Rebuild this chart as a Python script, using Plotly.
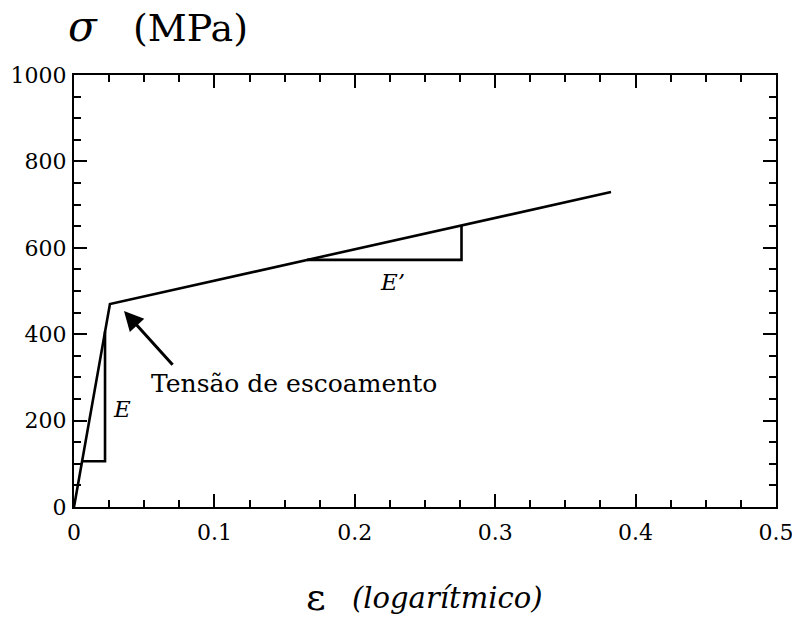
import plotly.graph_objects as go

# True stress–strain curve (bilinear idealisation)
strain = [0.0, 0.0256, 0.3825]
stress = [0.0, 470.0, 729.0]

# Slope triangle for the elastic modulus E
e_tri_x = [0.0058, 0.0221, 0.0221]
e_tri_y = [106.0, 106.0, 406.0]

# Slope triangle for the hardening modulus E'
ep_tri_x = [0.166, 0.276, 0.276]
ep_tri_y = [572.0, 572.0, 651.0]

x_ticks = [0, 0.1, 0.2, 0.3, 0.4, 0.5]
x_tick_text = ["0", "0.1", "0.2", "0.3", "0.4", "0.5"]
y_ticks = [0, 200, 400, 600, 800, 1000]

SERIF = "DejaVu Serif"
line_style = dict(color="black", width=2.6)

fig = go.Figure()
fig.add_trace(go.Scatter(x=strain, y=stress, mode="lines", line=line_style,
                         hoverinfo="skip"))
fig.add_trace(go.Scatter(x=e_tri_x, y=e_tri_y, mode="lines", line=line_style,
                         hoverinfo="skip"))
fig.add_trace(go.Scatter(x=ep_tri_x, y=ep_tri_y, mode="lines", line=line_style,
                         hoverinfo="skip"))

axis_common = dict(
    showline=True, linecolor="black", linewidth=2, mirror="ticks",
    ticks="inside", tickcolor="black", tickwidth=2, ticklen=13,
    showgrid=False, zeroline=False, ticklabeloverflow="allow",
    automargin=False,
    tickfont=dict(family=SERIF, size=22, color="black"),
)

fig.update_xaxes(range=[0, 0.50001], tickvals=x_ticks, ticktext=x_tick_text,
                 minor=dict(dtick=0.025, ticks="inside", ticklen=7,
                            tickwidth=1.5, tickcolor="black"),
                 ticklabelstandoff=5, **axis_common)
fig.update_yaxes(range=[0, 1000.02], tickvals=y_ticks,
                 minor=dict(dtick=50, ticks="inside", ticklen=7,
                            tickwidth=1.5, tickcolor="black"),
                 ticklabelstandoff=1, **axis_common)

# Axis titles and labels
fig.add_annotation(xref="paper", yref="paper", x=-0.0, y=1.0,
                   xanchor="left", yanchor="bottom", yshift=22, xshift=-8,
                   text="<span style='font-size:42px'><i>σ</i></span>   (MPa)",
                   showarrow=False,
                   font=dict(family=SERIF, size=38, color="black"))
fig.add_annotation(xref="paper", yref="paper", x=0.345, y=0,
                   xanchor="center", yanchor="middle", yshift=-90,
                   text="ε", showarrow=False,
                   font=dict(family=SERIF, size=38, color="black"))
fig.add_annotation(xref="paper", yref="paper", x=0.393, y=0,
                   xanchor="left", yanchor="middle", yshift=-91,
                   text="<i>(logarítmico)</i>", showarrow=False,
                   font=dict(family=SERIF, size=29, color="black"))
fig.add_annotation(x=0.0262, y=228, xanchor="left", yanchor="middle",
                   text="<i>E</i>", showarrow=False,
                   font=dict(family=SERIF, size=23, color="black"))
fig.add_annotation(x=0.2265, y=520, xanchor="center", yanchor="middle",
                   text="<i>E’</i>", showarrow=False,
                   font=dict(family=SERIF, size=23, color="black"))
fig.add_annotation(x=0.0535, y=286, xanchor="left", yanchor="middle",
                   text="Tensão de escoamento", showarrow=False,
                   font=dict(family=SERIF, size=25, color="black"))
fig.add_annotation(x=0.0356, y=454, ax=0.0712, ay=326,
                   xref="x", yref="y", axref="x", ayref="y",
                   text="", showarrow=True, arrowhead=2, arrowsize=1.3,
                   arrowwidth=3, arrowcolor="black")

fig.update_layout(
    width=792, height=619,
    margin=dict(l=74, r=16, t=75, b=112),
    paper_bgcolor="white", plot_bgcolor="white",
    showlegend=False,
)

fig.write_html("out.html")
